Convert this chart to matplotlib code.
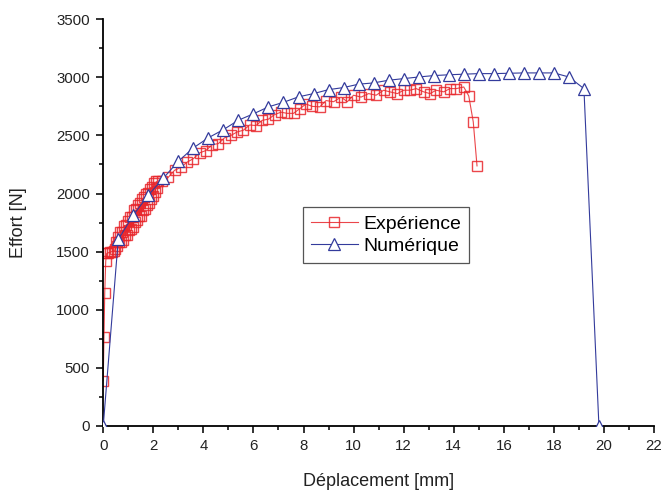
import matplotlib
matplotlib.use("Agg")
import matplotlib.pyplot as plt
from matplotlib.ticker import MultipleLocator

plt.rcParams['font.family'] = ['Liberation Sans', 'DejaVu Sans']

# ── Data ──────────────────────────────────────────────────────────────────────
# Numerical simulation (mm, N)
num_x = [0.0, 0.6, 1.2, 1.8, 2.4, 3.0, 3.6, 4.2, 4.8, 5.4, 6.0, 6.6, 7.2, 7.8,
         8.4, 9.0, 9.6, 10.2, 10.8, 11.4, 12.0, 12.6, 13.2, 13.8, 14.4, 15.0,
         15.6, 16.2, 16.8, 17.4, 18.0, 18.6, 19.2, 19.8]
num_y = [0, 1605, 1814, 1986, 2132, 2278, 2393, 2480, 2550, 2631, 2686, 2746,
         2785, 2832, 2860, 2894, 2912, 2941, 2952, 2975, 2989, 3003, 3015, 3022,
         3027, 3032, 3032, 3035, 3038, 3038, 3038, 3003, 2903, 0]

# Tensile test measurements (mm, N)
exp_x = [0.00, 0.03, 0.06, 0.10, 0.14, 0.20, 0.27, 0.34, 0.42, 0.48,
         0.52, 0.56, 0.60, 0.64, 0.68, 0.72, 0.76, 0.80, 0.84, 0.88,
         0.92, 0.96, 1.00, 1.04, 1.08, 1.12, 1.16, 1.20, 1.24, 1.28,
         1.32, 1.36, 1.40, 1.44, 1.48, 1.52, 1.56, 1.60, 1.64, 1.68,
         1.72, 1.76, 1.80, 1.84, 1.88, 1.92, 1.96, 2.00, 2.04, 2.08,
         2.12, 2.16, 2.20, 2.35, 2.60, 2.85, 3.10, 3.35, 3.60, 3.85,
         4.10, 4.35, 4.60, 4.85, 5.10, 5.35, 5.60, 5.85, 6.10, 6.35,
         6.60, 6.85, 7.10, 7.35, 7.60, 7.85, 8.10, 8.35, 8.65, 8.90,
         9.20, 9.50, 9.75, 10.00, 10.30, 10.60, 10.90, 11.20, 11.45, 11.75,
         12.00, 12.25, 12.50, 12.80, 13.05, 13.30, 13.60, 13.85, 14.10, 14.40,
         14.60, 14.78, 14.93]
exp_y = [390, 765, 1143, 1420, 1485, 1490, 1495, 1500, 1505, 1520,
         1586, 1548, 1630, 1583, 1665, 1587, 1669, 1602, 1724, 1646,
         1728, 1640, 1763, 1685, 1797, 1699, 1802, 1714, 1856, 1758,
         1870, 1773, 1905, 1807, 1919, 1811, 1954, 1856, 1968, 1870,
         1992, 1905, 2007, 1919, 2041, 1953, 2056, 1978, 2090, 2012,
         2104, 2047, 2109, 2110, 2140, 2200, 2225, 2270, 2300, 2350,
         2370, 2420, 2430, 2480, 2500, 2530, 2545, 2590, 2585, 2630,
         2640, 2680, 2700, 2690, 2690, 2730, 2770, 2750, 2746, 2800,
         2790, 2830, 2790, 2846, 2830, 2860, 2846, 2889, 2875, 2860,
         2889, 2889, 2903, 2875, 2860, 2889, 2875, 2903, 2903, 2917,
         2840, 2617, 2238]

RED = "#e8262b"
BLUE = "#333b9c"
TXT = "#222222"

# ── Plot ──────────────────────────────────────────────────────────────────────
fig = plt.figure(figsize=(6.66, 4.93), dpi=100)
ax = fig.add_axes([0.155, 0.136, 0.827, 0.825])

ax.plot(exp_x, exp_y, color=RED, lw=0.8, marker="s", ms=7.5,
        mfc="none", mec=RED, mew=1.0, alpha=0.85, label="Expérience")
ax.plot(num_x, num_y, color=BLUE, lw=0.8, marker="^", ms=8.5,
        mfc="white", mec=BLUE, mew=0.9, label="Numérique", zorder=3)

ax.set_xlim(0, 22)
ax.set_ylim(0, 3500)
ax.xaxis.set_major_locator(MultipleLocator(2))
ax.xaxis.set_minor_locator(MultipleLocator(1))
ax.yaxis.set_major_locator(MultipleLocator(500))
ax.yaxis.set_minor_locator(MultipleLocator(250))

for side in ("top", "right"):
    ax.spines[side].set_visible(False)
for side in ("left", "bottom"):
    ax.spines[side].set_linewidth(1.3)
ax.tick_params(which="major", direction="out", length=5, width=1.3,
               labelsize=10.8, colors=TXT, pad=4.5)
ax.tick_params(which="minor", direction="out", length=3, width=1.1)

ax.set_xlabel("Déplacement [mm]", fontsize=13, color=TXT, labelpad=14)
ax.set_ylabel("Effort [N]", fontsize=13, color=TXT, labelpad=21)

leg = ax.legend(loc="upper left", bbox_to_anchor=(0.363, 0.538),
                borderaxespad=0, fontsize=14, handlelength=2.4,
                handletextpad=0.3, labelspacing=0.25, borderpad=0.4,
                fancybox=False, framealpha=1)
leg.get_frame().set_edgecolor("#555555")
leg.get_frame().set_linewidth(0.9)

fig.savefig("out.png", dpi=100)
